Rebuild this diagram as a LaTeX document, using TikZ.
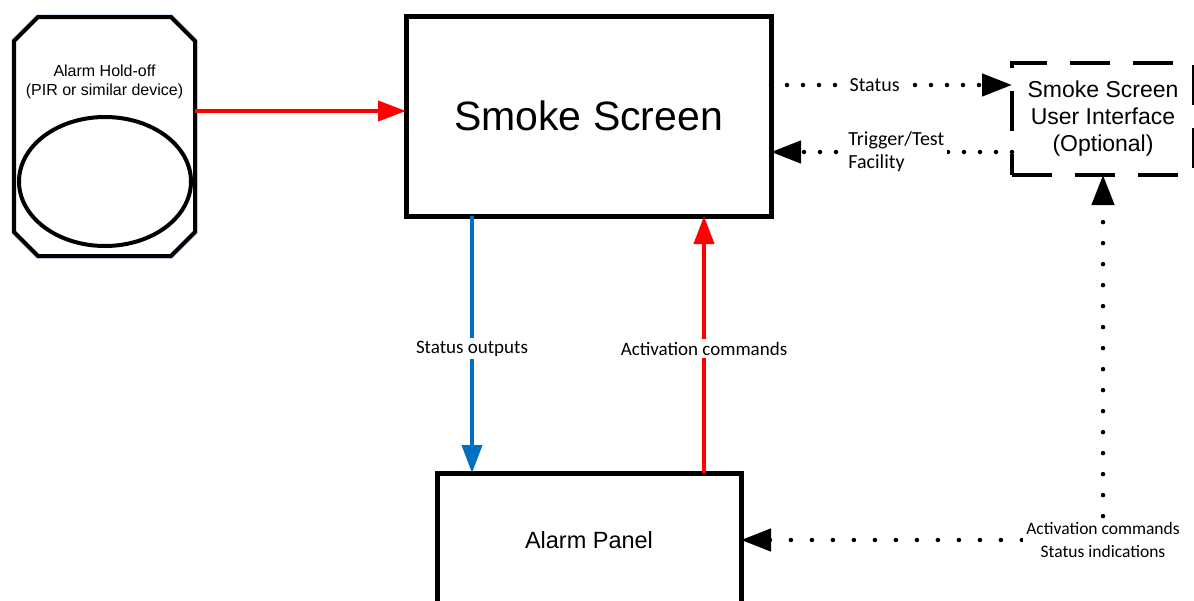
\documentclass[tikz,border=0pt]{standalone}
\usepackage{fontspec}
\setmainfont{Liberation Sans}
\newfontfamily\labelfont{Carlito}
\usetikzlibrary{arrows.meta,positioning,shapes.geometric}
\definecolor{arrowred}{RGB}{255,0,0}
\definecolor{arrowblue}{RGB}{0,112,192}
\definecolor{glow}{RGB}{214,228,245}
\tikzset{blackhead/.tip={Triangle[length=30pt,width=22pt]}}

\begin{document}
\begin{tikzpicture}[x=1pt,y=-1pt,
    box/.style={draw,line width=5pt,outer sep=0pt,inner sep=0pt},
    flow/.style={line width=4pt,-{Triangle[length=28pt,width=20pt]}},
    dots/.style={line width=4.5pt,line cap=round,dash pattern=on 0pt off #1},
    dots/.default=21pt,
    lbl/.style={font=\labelfont\fontsize{19}{22}\selectfont,text=black,fill=white,inner sep=3pt}]

    \useasboundingbox (0,0) rectangle (1194,600);
    \clip (0,0) rectangle (1194,600);

    % Define vertices
    \node[minimum width=181pt,minimum height=239pt,inner sep=0pt,outer sep=0pt] (pir) at (104.5,136.5) {};
    \draw[glow,line width=6pt,line join=round,shift={(2pt,-2pt)}]
        ([xshift=24pt]pir.north west) -- ([xshift=-24pt]pir.north east) -- ([yshift=-24pt]pir.north east)
        -- ([yshift=24pt]pir.south east) -- ([xshift=-24pt]pir.south east) -- ([xshift=24pt]pir.south west)
        -- ([yshift=24pt]pir.south west) -- ([yshift=-24pt]pir.north west) -- cycle;
    \draw[fill=white,line width=4pt,line join=miter]
        ([xshift=24pt]pir.north west) -- ([xshift=-24pt]pir.north east) -- ([yshift=-24pt]pir.north east)
        -- ([yshift=24pt]pir.south east) -- ([xshift=-24pt]pir.south east) -- ([xshift=24pt]pir.south west)
        -- ([yshift=24pt]pir.south west) -- ([yshift=-24pt]pir.north west) -- cycle;
    \node[align=center,font=\fontsize{16}{19}\selectfont] (pirtext) at (104.5,82) {Alarm Hold-off\\(PIR or similar device)};
    \node[draw,ellipse,line width=4pt,inner sep=0pt,minimum width=172pt,minimum height=129pt] (sensor) at (105,181.5) {};

    \node[box,minimum width=365pt,minimum height=200pt,font=\fontsize{41}{49}\selectfont] (smoke) at (588.5,116) {Smoke Screen};
    \node[box,minimum width=304pt,minimum height=134pt,font=\fontsize{23.5}{28}\selectfont] (panel) at (589,540) {Alarm Panel};
    \node[draw,dash pattern=on 40pt off 23pt,line width=4pt,outer sep=0pt,minimum width=182pt,minimum height=112pt,
          align=center,font=\fontsize{23}{27}\selectfont] (ui) at (1103,119) {Smoke Screen\\User Interface\\(Optional)};

    \coordinate (hold) at (0,111);
    \coordinate (so) at (472,0);
    \coordinate (ac) at (704,0);
    \coordinate (st) at (0,85);
    \coordinate (tt) at (0,152);

    % Draw edges
    \draw[flow,arrowred] (pir.east |- hold) -- (smoke.west |- hold);
    \draw[flow,arrowblue] (smoke.south -| so) -- (panel.north -| so)
        node[midway,lbl,yshift=-4pt] {Status outputs};
    \draw[flow,arrowred] (panel.north -| ac) -- (smoke.south -| ac)
        node[midway,lbl,yshift=-4pt] {Activation commands};
    \draw[dots=16pt,-blackhead] (smoke.east |- st) -- (ui.west |- st)
        node[pos=0.43,lbl,font=\labelfont\fontsize{20}{23}\selectfont] {Status};
    \draw[dots=16pt,-blackhead] (ui.west |- tt) -- (smoke.east |- tt)
        node[pos=0.48,lbl,align=left,font=\labelfont\fontsize{20}{23}\selectfont] {Trigger/Test\\Facility};
    \draw[dots,blackhead-blackhead] (panel.east) -| (ui.south)
        node[pos=0.5,lbl,align=center,font=\labelfont\fontsize{17.5}{23}\selectfont] {Activation commands\\Status indications};

\end{tikzpicture}
\end{document}
